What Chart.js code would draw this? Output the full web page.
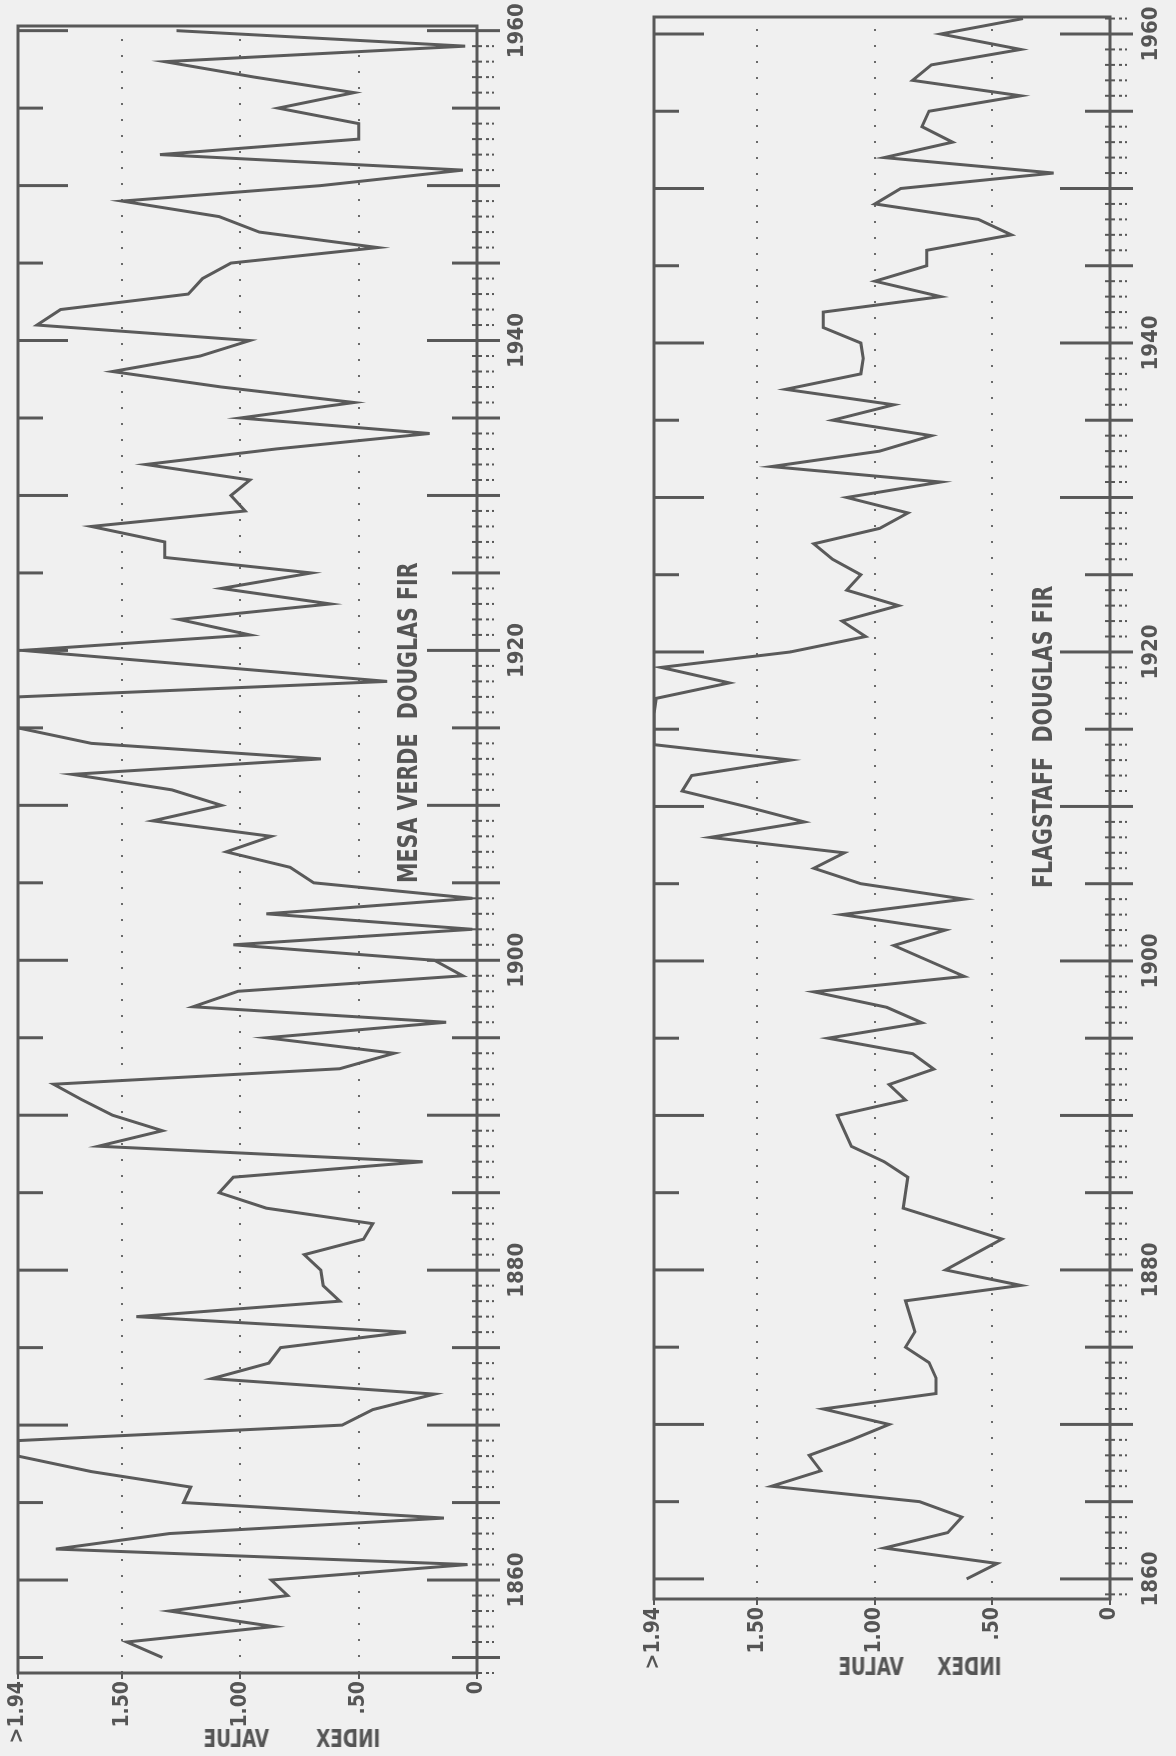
<!DOCTYPE html>
<html>
<head>
<meta charset="utf-8">
<title>Mesa Verde / Flagstaff Douglas fir</title>
<script src="https://cdn.jsdelivr.net/npm/chart.js@4.4.0/dist/chart.umd.min.js"></script>
<style>
  html, body { margin: 0; padding: 0; background: #f0f0f0; }
  body { width: 1176px; height: 1756px; position: relative; overflow: hidden; }
  /* the whole sheet is drawn lying down and turned a quarter turn */
  #hoja { position: absolute; left: 0; top: 0; width: 1756px; height: 1176px;
          transform-origin: 0 0; transform: translateY(1756px) rotate(-90deg); }
  #hoja canvas { position: absolute; left: 0; }
  .titulo { position: absolute; font: bold 26px "Liberation Sans Narrow", "DejaVu Sans Condensed", sans-serif;
            line-height: 1; color: #555; white-space: pre; transform-origin: 0 0; transform: scaleX(0.88); }
  .indice { position: absolute; font: bold 24px "Liberation Sans Narrow", "DejaVu Sans Condensed", sans-serif;
            line-height: 1; color: #555; white-space: nowrap; transform: scaleX(-0.85); }
</style>
</head>
<body>
<div id="hoja">
  <canvas id="mesaVerde" width="1756" height="590" style="top:0px"></canvas>
  <canvas id="flagstaff" width="1756" height="586" style="top:590px"></canvas>
  <div class="titulo" style="left:873px; top:395px">MESA VERDE  DOUGLAS FIR</div>
  <div class="titulo" style="left:868px; top:1030px">FLAGSTAFF  DOUGLAS FIR</div>
</div>
<div class="indice" style="left:188px; top:1727px; word-spacing:48px">INDEX VALUE</div>
<div class="indice" style="left:824px; top:1655px; word-spacing:32px">INDEX VALUE</div>

<script>
/*
* Datos
*/
const mesaStart = 1855;
const mesaIndex = [
  1.33, 1.48, 0.86, 1.30, 0.80,                         // 1855-1859
  0.87, 0.04, 1.78, 1.30, 0.14, 1.24, 1.21, 1.63, 1.94, 1.94, // 1860-1869
  0.57, 0.44, 0.18, 1.12, 0.88, 0.83, 0.30, 1.44, 0.58, 0.65, // 1870-1879
  0.66, 0.73, 0.48, 0.44, 0.89, 1.09, 1.03, 0.23, 1.60, 1.33, // 1880-1889
  1.54, 1.67, 1.79, 0.58, 0.35, 0.89, 0.13, 1.20, 1.01, 0.06, // 1890-1899
  0.18, 1.03, 0.02, 0.89, 0.02, 0.69, 0.79, 1.06, 0.87, 1.37, // 1900-1909
  1.08, 1.29, 1.71, 0.66, 1.63, 1.94, 1.94, 1.94, 0.38, 1.15, // 1910-1919
  1.92, 0.96, 1.26, 0.62, 1.08, 0.70, 1.32, 1.32, 1.63, 0.98, // 1920-1929
  1.04, 0.96, 1.40, 0.85, 0.20, 1.00, 0.52, 1.08, 1.54, 1.17, // 1930-1939
  0.96, 1.86, 1.76, 1.22, 1.16, 1.04, 0.42, 0.92, 1.09, 1.50, // 1940-1949
  0.66, 0.06, 1.34, 0.50, 0.50, 0.84, 0.52, 0.94, 1.32, 0.05, // 1950-1959
  1.27                                                   // 1960
];

const flagStart = 1860;
const flagIndex = [
  0.61, 0.48, 0.96, 0.69, 0.63, 0.81, 1.44, 1.23, 1.28, 1.10, // 1860-1869
  0.94, 1.22, 0.74, 0.74, 0.77, 0.87, 0.83, 0.85, 0.87, 0.38, // 1870-1879
  0.70, 0.58, 0.46, 0.67, 0.88, 0.87, 0.86, 0.96, 1.10, 1.13, // 1880-1889
  1.16, 0.87, 0.94, 0.75, 0.84, 1.20, 0.80, 0.95, 1.26, 0.62, // 1890-1899
  0.77, 0.92, 0.70, 1.14, 0.62, 1.06, 1.26, 1.13, 1.70, 1.30, // 1900-1909
  1.55, 1.82, 1.78, 1.36, 1.94, 1.94, 1.94, 1.93, 1.62, 1.91, // 1910-1919
  1.36, 1.04, 1.14, 0.90, 1.12, 1.06, 1.18, 1.26, 0.98, 0.86, // 1920-1929
  1.12, 0.72, 1.44, 0.98, 0.76, 1.18, 0.92, 1.38, 1.06, 1.05, // 1930-1939
  1.06, 1.22, 1.22, 0.72, 1.00, 0.78, 0.78, 0.42, 0.56, 1.00, // 1940-1949
  0.89, 0.24, 0.96, 0.67, 0.80, 0.77, 0.38, 0.84, 0.76, 0.38, // 1950-1959
  0.72, 0.37                                             // 1960-1961
];

const yearTicks = [1860, 1880, 1900, 1920, 1940, 1960];
const valueTicks = [0, 0.5, 1, 1.5, 1.94];
const valueLabels = ['0', '.50', '1.00', '1.50', '>1.94'];

const mesaYears = mesaIndex.map((v, i) => mesaStart + i);
const flagYears = flagIndex.map((v, i) => flagStart + i);

const tinta = '#585858';
const letra = '"Liberation Sans Narrow", "DejaVu Sans Condensed", sans-serif';

/*
* Marco y marcas de los anios
*/
const marcoPlugin = {
  id: 'marco',
  afterDatasetsDraw(chart) {
    const ctx = chart.ctx;
    const area = chart.chartArea;
    const x = chart.scales.x;
    const y = chart.scales.y;
    const base = y.getPixelForValue(0);
    const tope = y.getPixelForValue(1.94);

    function linea(x1, y1, x2, y2) {
      ctx.beginPath();
      ctx.moveTo(x1, y1);
      ctx.lineTo(x2, y2);
      ctx.stroke();
    }

    ctx.save();
    ctx.strokeStyle = tinta;
    ctx.fillStyle = tinta;
    ctx.lineWidth = 3;
    ctx.strokeRect(area.left, area.top, area.right - area.left, area.bottom - area.top);

    for (let anio = Math.ceil(x.min); anio <= Math.floor(x.max); anio++) {
      const px = x.getPixelForValue(anio);
      if (anio % 5 === 0) {
        const largo = anio % 10 === 0 ? 50 : 25;
        ctx.lineWidth = 3;
        linea(px, base - largo, px, base + 23);
        linea(px, tope, px, tope + largo);
      } else {
        ctx.lineWidth = 2;
        linea(px, base - 5, px, base + 5);
        ctx.fillRect(px - 1, base + 9, 2, 3);
        ctx.fillRect(px - 1, base + 15, 2, 2);
      }
    }
    ctx.restore();
  }
};

function crearGrafico(id, anios, valores, minAnio, maxAnio, caja) {
  return new Chart(document.getElementById(id), {
    type: 'line',
    data: {
      labels: anios,
      datasets: [{
        data: valores,
        borderColor: '#5a5a5a',
        borderWidth: 3,
        pointRadius: 0,
        tension: 0,
        fill: false
      }]
    },
    options: {
      responsive: false,
      animation: false,
      layout: { padding: { left: 0, right: caja.derecha, top: caja.arriba, bottom: 0 } },
      plugins: { legend: { display: false }, tooltip: { enabled: false } },
      scales: {
        x: {
          type: 'linear',
          min: minAnio,
          max: maxAnio,
          // the tick length only pushes the labels away from the axis (grid itself is hidden)
          grid: { display: false, drawTicks: true, tickLength: caja.sep },
          border: { display: false },
          afterBuildTicks: function (s) { s.ticks = yearTicks.map(v => ({ value: v })); },
          afterFit: function (s) { s.height = caja.alto; },
          ticks: {
            autoSkip: false,
            maxRotation: 0,
            padding: 0,
            color: '#555',
            font: { family: letra, size: 22, weight: 'bold' },
            callback: v => String(v)
          }
        },
        y: {
          min: 0,
          max: 1.94,
          border: { display: false, dash: [2, 14] },
          grid: {
            color: c => (c.tick && c.tick.value > 0 && c.tick.value < 1.9) ? '#6a6a6a' : 'rgba(0,0,0,0)',
            lineWidth: 2,
            drawTicks: true,
            tickLength: 6,
            tickColor: tinta,
            tickWidth: 2
          },
          afterBuildTicks: function (s) { s.ticks = valueTicks.map(v => ({ value: v })); },
          afterFit: function (s) { s.width = caja.ancho; },
          ticks: {
            padding: 2,
            color: '#555',
            font: { family: letra, size: 21, weight: 'bold' },
            callback: v => valueLabels[valueTicks.indexOf(v)]
          }
        }
      }
    },
    plugins: [marcoPlugin]
  });
}

crearGrafico('mesaVerde', mesaYears, mesaIndex, 1854, 1960.3,
  { ancho: 83, alto: 113, arriba: 18, derecha: 26, sep: 27 });

crearGrafico('flagstaff', flagYears, flagIndex, 1858.7, 1961.1,
  { ancho: 157, alto: 66, arriba: 64, derecha: 17, sep: 28 });
</script>
</body>
</html>
